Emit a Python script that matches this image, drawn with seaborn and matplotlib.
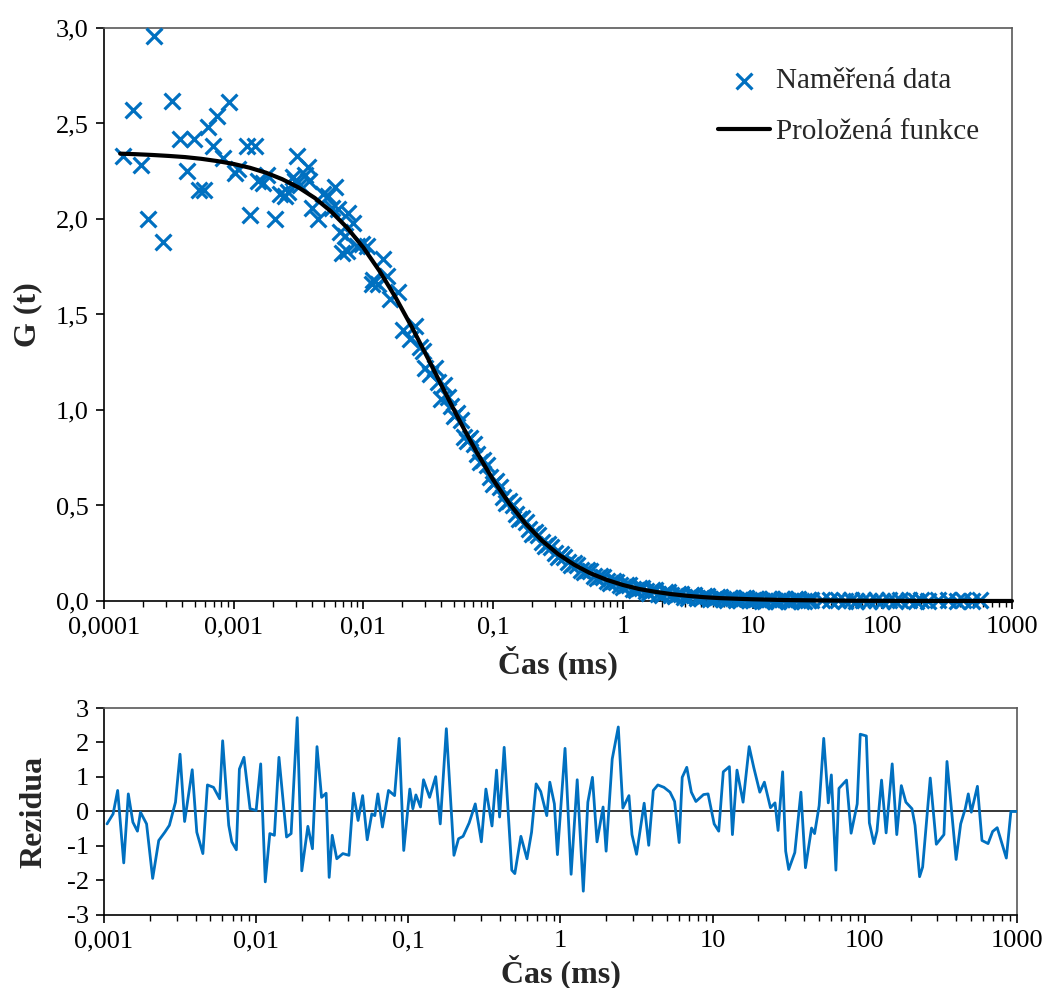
import numpy as np
import pandas as pd
import matplotlib
matplotlib.use("Agg")
import matplotlib.pyplot as plt
import seaborn as sns
from matplotlib.ticker import FixedLocator, FixedFormatter, LogLocator, NullFormatter

sns.set_theme(style="white")
plt.rcParams['font.family'] = ['Liberation Serif', 'DejaVu Serif']

BLUE = '#0070C0'

# ---------------- measured data (log10 of time in ms, G(t)) ----------------
data_logt = [
    -3.856, -3.779, -3.717, -3.658, -3.612, -3.547, -3.478, -3.414, -3.358, -3.306,
    -3.268, -3.227, -3.196, -3.157, -3.131, -3.085, -3.034, -2.990, -2.965, -2.900,
    -2.874, -2.836, -2.810, -2.772, -2.746, -2.682, -2.643, -2.604, -2.579, -2.540,
    -2.527, -2.514, -2.489, -2.450, -2.425, -2.420, -2.399, -2.348, -2.309, -2.271,
    -2.244, -2.219, -2.193, -2.180, -2.168, -2.142, -2.129, -2.116, -2.078, -2.052,
    -2.013, -1.975, -1.936, -1.923, -1.885, -1.846, -1.820, -1.795, -1.731, -1.692,
    -1.641, -1.602, -1.564, -1.538, -1.525, -1.490,
    -1.45, -1.40, -1.35, -1.30, -1.25, -1.20, -1.15, -1.10, -1.05, -1.00,
    -0.95, -0.90, -0.85, -0.80, -0.75, -0.70, -0.65, -0.60, -0.55, -0.50,
    -0.45, -0.40, -0.35, -0.30, -0.25, -0.20, -0.15, -0.10, -0.05, 0.00,
    0.05, 0.10, 0.15, 0.20, 0.25, 0.30, 0.35, 0.40, 0.45, 0.50,
    0.55, 0.60, 0.65, 0.70, 0.75, 0.80, 0.85, 0.90, 0.95, 1.00,
    1.05, 1.10, 1.15, 1.20, 1.25, 1.30, 1.35, 1.40, 1.45,
    1.533, 1.598, 1.66, 1.71, 1.76, 1.80, 1.85, 1.90, 1.95, 2.00,
    2.05, 2.10, 2.14, 2.21, 2.26, 2.30, 2.35, 2.43, 2.51, 2.58,
    2.62, 2.69, 2.75,
]
data_g = [
    2.33, 2.57, 2.28, 2.00, 2.96, 1.88, 2.62, 2.42, 2.25, 2.42,
    2.15, 2.15, 2.48, 2.38, 2.54, 2.32, 2.61, 2.24, 2.26, 2.38,
    2.02, 2.38, 2.20, 2.19, 2.23, 2.00, 2.13, 2.12, 2.14, 2.22,
    2.20, 2.33, 2.18, 2.23, 2.27, 2.20, 2.06, 2.00, 2.13, 2.12,
    2.06, 2.17, 2.05, 1.93, 1.82, 1.91, 1.83, 2.03, 1.98, 1.86,
    1.87, 1.86, 1.66, 1.68, 1.66, 1.79, 1.70, 1.58, 1.62, 1.42,
    1.37, 1.44, 1.33, 1.31, 1.22, 1.19,
    1.22, 1.06, 1.07, 0.97, 0.95, 0.84, 0.82, 0.73, 0.71, 0.615,
    0.598, 0.514, 0.50, 0.43, 0.415, 0.35, 0.345, 0.29, 0.285, 0.23,
    0.232, 0.188, 0.19, 0.15, 0.155, 0.118, 0.127, 0.095, 0.102, 0.074,
    0.083, 0.057, 0.068, 0.044, 0.056, 0.033, 0.045, 0.025, 0.037, 0.018,
    0.030, 0.014, 0.025, 0.009, 0.021, 0.006, 0.018, 0.004, 0.015, 0.003,
    0.013, 0.001, 0.011, 0.0005, 0.010, -0.001, 0.009, -0.002, 0.007,
    0.004, 0.003, 0.005, 0.001, 0.006, 0.002, 0.004, 0.000, 0.005, 0.002,
    0.004, 0.001, 0.003, 0.004, 0.001, 0.005, 0.002, 0.003, 0.004, 0.002,
    0.003, 0.001, 0.004,
]

# interleaved points of the dense part of the measured curve
dense_logt = [
    -1.425, -1.375, -1.325, -1.275, -1.225, -1.175, -1.125, -1.075, -1.025, -0.975,
    -0.925, -0.875, -0.825, -0.775, -0.725, -0.675, -0.625, -0.575, -0.525, -0.475,
    -0.425, -0.375, -0.325, -0.275, -0.225, -0.175, -0.125, -0.075, -0.025, 0.025,
    0.075, 0.125, 0.175, 0.225, 0.275, 0.325, 0.375, 0.425, 0.475, 0.525,
    0.575, 0.625, 0.675, 0.725, 0.775, 0.825, 0.875, 0.925, 0.975, 1.025,
    1.075, 1.125, 1.175, 1.225, 1.275, 1.325, 1.375, 1.425,
]
dense_g = [
    1.145, 1.13, 1.02, 0.985, 0.86, 0.852, 0.767, 0.738, 0.647, 0.628,
    0.546, 0.525, 0.456, 0.436, 0.376, 0.362, 0.307, 0.297, 0.249, 0.244,
    0.203, 0.200, 0.162, 0.161, 0.129, 0.131, 0.103, 0.107, 0.082, 0.086,
    0.064, 0.070, 0.051, 0.057, 0.039, 0.046, 0.030, 0.038, 0.023, 0.031,
    0.017, 0.025, 0.012, 0.021, 0.009, 0.018, 0.006, 0.015, 0.003, 0.013,
    0.002, 0.012, 0.001, 0.010, 0.000, 0.008, 0.000, 0.007,
]

# ---------------- fitted curve ----------------
fit_logt = [
    -3.875, -3.75, -3.625, -3.5, -3.375, -3.25, -3.125, -3.0, -2.875, -2.75,
    -2.625, -2.5, -2.375, -2.25, -2.125, -2.0, -1.875, -1.75, -1.625, -1.5,
    -1.375, -1.25, -1.125, -1.0, -0.875, -0.75, -0.625, -0.5, -0.375, -0.25,
    -0.125, 0.0, 0.125, 0.25, 0.375, 0.5, 0.625, 0.75, 0.875, 1.0,
    1.25, 1.5, 1.75, 2.0, 2.5, 3.0,
]
fit_g = [
    2.342, 2.339, 2.335, 2.330, 2.324, 2.315, 2.303, 2.288, 2.268, 2.242,
    2.208, 2.165, 2.110, 2.040, 1.954, 1.850, 1.727, 1.587, 1.432, 1.267,
    1.098, 0.933, 0.777, 0.635, 0.510, 0.405, 0.317, 0.246, 0.190, 0.145,
    0.111, 0.084, 0.063, 0.048, 0.036, 0.027, 0.020, 0.015, 0.012, 0.009,
    0.005, 0.003, 0.0015, 0.0009, 0.0003, 0.0001,
]

# ---------------- residuals ----------------
resid_logt = [
    -2.98, -2.94, -2.91, -2.87, -2.84, -2.81, -2.78, -2.76, -2.72, -2.68,
    -2.64, -2.60, -2.57, -2.53, -2.50, -2.47, -2.42, -2.39, -2.35, -2.32,
    -2.28, -2.24, -2.22, -2.18, -2.16, -2.13, -2.11, -2.08, -2.04, -2.00,
    -1.97, -1.94, -1.91, -1.88, -1.85, -1.80, -1.77, -1.73, -1.70, -1.66,
    -1.63, -1.60, -1.57, -1.54, -1.52, -1.50, -1.47, -1.43, -1.39, -1.36,
    -1.33, -1.30, -1.27, -1.24, -1.22, -1.20, -1.17, -1.13, -1.09, -1.06,
    -1.03, -0.99,
    -0.97, -0.95, -0.92, -0.90, -0.86, -0.82, -0.79, -0.75, -0.70, -0.67,
    -0.64, -0.60, -0.56, -0.52, -0.49, -0.45, -0.42, -0.40, -0.37, -0.32,
    -0.30, -0.26, -0.22, -0.19, -0.16, -0.13, -0.09, -0.07, -0.04, -0.02,
    0.03, 0.07, 0.11, 0.15, 0.18, 0.21, 0.24, 0.28, 0.30, 0.34,
    0.38, 0.41, 0.45, 0.47, 0.50, 0.55, 0.58, 0.61, 0.64, 0.68,
    0.72, 0.75, 0.78, 0.80, 0.83, 0.86, 0.89, 0.91, 0.94,
    0.97, 1.01, 1.04, 1.07, 1.11, 1.13, 1.16, 1.20, 1.24, 1.27,
    1.31, 1.34, 1.38, 1.41, 1.43, 1.46, 1.48, 1.50, 1.54, 1.58,
    1.61, 1.65, 1.67, 1.70, 1.73, 1.76, 1.78, 1.81, 1.83, 1.88,
    1.91, 1.95, 1.97, 2.01, 2.03, 2.06, 2.08, 2.11, 2.14, 2.18,
    2.21, 2.24, 2.27, 2.31, 2.33, 2.36, 2.38, 2.43, 2.47, 2.52,
    2.54, 2.60, 2.63, 2.66, 2.68, 2.70, 2.74, 2.77, 2.81, 2.84,
    2.87, 2.93, 2.96, 3.00,
]
resid_values = [
    -0.36, -0.07, 0.61, -1.49, 0.51, -0.31, -0.57, -0.02, -0.36, -1.94,
    -0.84, -0.60, -0.40, 0.27, 1.66, -0.29, 1.21, -0.60, -1.22, 0.77,
    0.70, 0.37, 2.05, -0.40, -0.88, -1.11, 1.23, 1.57, 0.08, 0.03,
    1.38, -2.04, -0.64, -0.69, 1.57, -0.74, -0.64, 2.72, -1.72, -0.43,
    -1.08, 1.88, 0.41, 0.53, -1.91, -0.69, -1.37, -1.22, -1.27, 0.53,
    -0.26, 0.46, -0.82, -0.07, -0.12, 0.51, -0.45, 0.61, 0.46, 2.12,
    -1.13, 0.65,
    0.08, 0.48, 0.13, 0.92, 0.41, 1.01, -0.36, 2.40, -1.27, -0.79,
    -0.72, -0.33, 0.22, -0.88, 0.65, -0.42, 1.20, -0.16, 1.86, -1.70,
    -1.80, -0.72, -1.37, -0.60, 0.80, 0.58, -0.12, 0.85, 0.22, -1.25,
    1.83, -1.82, 0.92, -2.31, 0.27, 0.99, -0.88, 0.13, -1.15, 1.52,
    2.45, 0.10, 0.46, -0.67, -1.24, 0.24, -0.98, 0.61, 0.77, 0.70,
    0.56, 0.29, -0.90, 0.99, 1.28, 0.56, 0.29, 0.37, 0.49,
    0.51, -0.36, -0.57, 1.15, 1.30, -0.67, 1.20, 0.27, 1.88, 1.28,
    0.56, 0.85, 0.11, 0.25, -0.55, 1.15, -1.15, -1.68, -1.19, 0.56,
    -1.63, -0.48, -0.64, 0.17, 2.12, 0.25, 1.06, -1.70, 0.67, 0.91,
    -0.63, 0.22, 2.24, 2.19, -0.33, -0.93, -0.57, 0.91, -0.62, 1.38,
    -0.67, 0.75, 0.27, 0.08, -0.40, -1.89, -1.61, 0.97, -0.95, -0.67,
    1.45, -1.39, -0.36, 0.08, 0.51, -0.02, 0.73, -0.84, -0.93, -0.58,
    -0.47, -1.35, 0.00, 0.00,
]

# ---------------- ticks ----------------
top_xticks = [0.0001, 0.001, 0.01, 0.1, 1, 10, 100, 1000]
top_xlabels = ['0,0001', '0,001', '0,01', '0,1', '1', '10', '100', '1000']
top_yticks = [0.0, 0.5, 1.0, 1.5, 2.0, 2.5, 3.0]
top_ylabels = ['0,0', '0,5', '1,0', '1,5', '2,0', '2,5', '3,0']
bot_xticks = [0.001, 0.01, 0.1, 1, 10, 100, 1000]
bot_xlabels = ['0,001', '0,01', '0,1', '1', '10', '100', '1000']
bot_yticks = [-3, -2, -1, 0, 1, 2, 3]
bot_ylabels = ['-3', '-2', '-1', '0', '1', '2', '3']

TICK_FS = 19
LABEL_FS = 23
LEGEND_FS = 21

df_data = pd.DataFrame({'t': np.power(10.0, data_logt + dense_logt),
                        'G': data_g + dense_g})
df_fit = pd.DataFrame({'t': np.power(10.0, fit_logt), 'G': fit_g})
df_res = pd.DataFrame({'t': np.power(10.0, resid_logt), 'r': resid_values})

fig = plt.figure(figsize=(10.48, 9.88), dpi=100)
ax1 = fig.add_axes([0.0992, 0.3917, 0.8664, 0.5800])
ax2 = fig.add_axes([0.0992, 0.0739, 0.8712, 0.2095])

for ax in (ax1, ax2):
    ax.set_xscale('log')

sns.scatterplot(data=df_data, x='t', y='G', ax=ax1, marker='x', color=BLUE,
                s=130, linewidth=2.3, label='Naměřená data', clip_on=False, zorder=3)
sns.lineplot(data=df_fit, x='t', y='G', ax=ax1, color='black', linewidth=3.0,
             estimator=None, sort=False, label='Proložená funkce', clip_on=False, zorder=4)

ax2.axhline(0, color='black', linewidth=1.1, zorder=2)
sns.lineplot(data=df_res, x='t', y='r', ax=ax2, color=BLUE, linewidth=2.0,
             estimator=None, sort=False, zorder=3)

# axes limits & ticks
ax1.set_xlim(0.0001, 1000)
ax1.set_ylim(0, 3.0)
ax2.set_xlim(0.001, 1000)
ax2.set_ylim(-3, 3)

ax1.xaxis.set_major_locator(FixedLocator(top_xticks))
ax1.xaxis.set_major_formatter(FixedFormatter(top_xlabels))
ax1.yaxis.set_major_locator(FixedLocator(top_yticks))
ax1.yaxis.set_major_formatter(FixedFormatter(top_ylabels))
ax2.xaxis.set_major_locator(FixedLocator(bot_xticks))
ax2.xaxis.set_major_formatter(FixedFormatter(bot_xlabels))
ax2.yaxis.set_major_locator(FixedLocator(bot_yticks))
ax2.yaxis.set_major_formatter(FixedFormatter(bot_ylabels))

for ax in (ax1, ax2):
    ax.xaxis.set_minor_locator(LogLocator(base=10, subs=np.arange(2, 10), numticks=20))
    ax.xaxis.set_minor_formatter(NullFormatter())
    ax.tick_params(axis='both', which='major', direction='out', length=6, width=1.2,
                   labelsize=TICK_FS, colors='black', pad=5)
    ax.tick_params(axis='x', which='minor', direction='out', length=4, width=1.0,
                   colors='black')
    ax.tick_params(axis='y', which='minor', length=0)
    ax.tick_params(bottom=True, left=True, top=False, right=False)
    ax.tick_params(axis='x', which='minor', bottom=True, top=False)
    for side, sp in ax.spines.items():
        sp.set_visible(True)
        sp.set_linewidth(1.2)
        sp.set_color('black' if side in ('left', 'bottom') else '#595959')
    ax.grid(False)

ax1.set_xlabel('Čas (ms)', fontsize=LABEL_FS, fontweight='bold')
ax1.set_ylabel('G (t)', fontsize=LABEL_FS, fontweight='bold')
ax2.set_xlabel('Čas (ms)', fontsize=LABEL_FS, fontweight='bold')
ax2.set_ylabel('Rezidua', fontsize=LABEL_FS, fontweight='bold')
ax1.xaxis.set_label_coords(0.5, -0.078)
ax1.yaxis.set_label_coords(-0.068, 0.5)
ax2.xaxis.set_label_coords(0.5, -0.19)
ax2.yaxis.set_label_coords(-0.061, 0.5)

leg = ax1.legend(loc='upper left', bbox_to_anchor=(0.676, 0.930), frameon=False,
                 fontsize=LEGEND_FS, borderpad=0, handlelength=1.8, handletextpad=0.2,
                 labelspacing=0.83, borderaxespad=0)

fig.savefig('out.png', dpi=100)
